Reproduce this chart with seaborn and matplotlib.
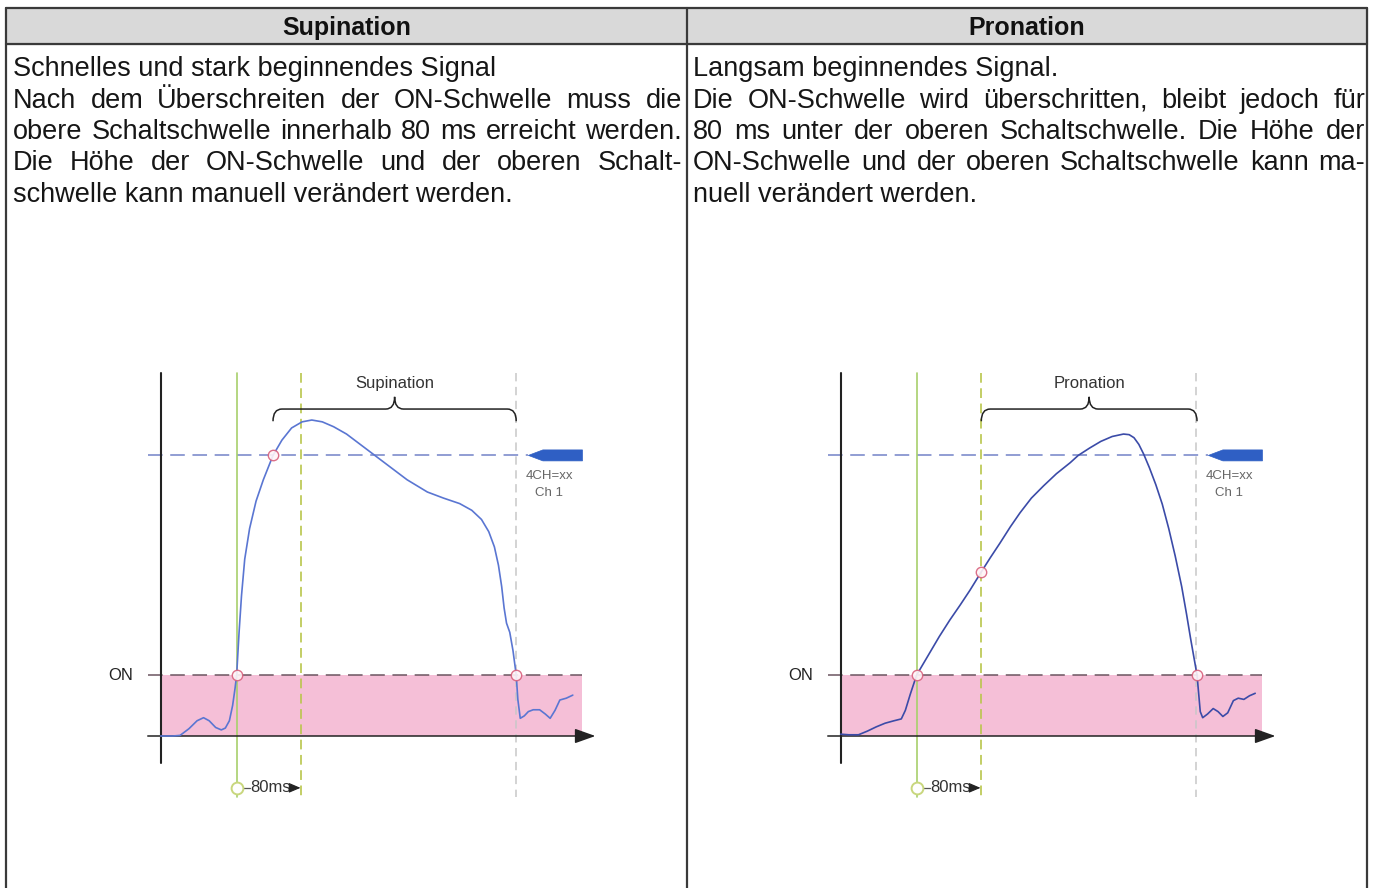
import numpy as np
import pandas as pd
import seaborn as sns
import matplotlib
matplotlib.use("Agg")
import matplotlib.pyplot as plt
from matplotlib.path import Path
from matplotlib.patches import PathPatch, Polygon

# ---- data (time in ms, signal in units of the ON threshold) ----
col_titles = ["Supination", "Pronation"]

sup_lines = [
    ("Schnelles und stark beginnendes Signal", False),
    ("Nach dem Überschreiten der ON-Schwelle muss die", True),
    ("obere Schaltschwelle innerhalb 80 ms erreicht werden.", True),
    ("Die Höhe der ON-Schwelle und der oberen Schalt-", True),
    ("schwelle kann manuell verändert werden.", False),
]
pro_lines = [
    ("Langsam beginnendes Signal.", False),
    ("Die ON-Schwelle wird überschritten, bleibt jedoch für", True),
    ("80 ms unter der oberen Schaltschwelle. Die Höhe der", True),
    ("ON-Schwelle und der oberen Schaltschwelle kann ma-", True),
    ("nuell verändert werden.", False),
]

sup_t = [0, 15, 24, 35, 45, 53, 60, 68, 75, 80, 85, 89, 92, 94, 97, 100, 104, 110,
         118, 127, 139, 150, 162, 175, 187, 200, 214, 230, 255, 280, 305, 330, 350,
         370, 385, 397, 406, 413, 418, 422, 425, 428, 432, 436, 440, 442, 445, 450,
         455, 461, 469, 476, 482, 488, 494, 502, 510]
sup_a = [0, 0, 0.01, 0.12, 0.25, 0.30, 0.25, 0.14, 0.10, 0.13, 0.25, 0.5, 0.78, 1.0,
         1.7, 2.3, 2.9, 3.4, 3.85, 4.2, 4.6, 4.85, 5.05, 5.15, 5.18, 5.15, 5.07, 4.95,
         4.7, 4.45, 4.2, 4.0, 3.9, 3.81, 3.7, 3.55, 3.35, 3.1, 2.8, 2.45, 2.1, 1.85,
         1.7, 1.4, 1.0, 0.6, 0.29, 0.33, 0.40, 0.43, 0.43, 0.36, 0.29, 0.42, 0.59, 0.62, 0.67]

pro_t = [0, 10, 22, 33, 44, 55, 66, 75, 80, 86, 94, 102, 110, 122, 135, 148, 160, 174,
         185, 197, 210, 222, 236, 251, 267, 284, 294, 308, 322, 336, 350, 357, 363, 369,
         375, 382, 390, 398, 406, 414, 422, 428, 433, 437, 441, 443, 445, 448, 454, 461,
         467, 473, 479, 486, 492, 499, 506, 513]
pro_a = [0.03, 0.02, 0.02, 0.08, 0.15, 0.21, 0.25, 0.28, 0.42, 0.68, 1.0, 1.18, 1.36,
         1.63, 1.9, 2.15, 2.39, 2.69, 2.92, 3.16, 3.43, 3.66, 3.9, 4.1, 4.3, 4.48, 4.6,
         4.72, 4.83, 4.91, 4.95, 4.94, 4.89, 4.78, 4.62, 4.4, 4.12, 3.8, 3.4, 2.95, 2.45,
         2.0, 1.6, 1.3, 1.0, 0.7, 0.4, 0.3, 0.36, 0.45, 0.4, 0.32, 0.38, 0.58, 0.62, 0.6,
         0.66, 0.7]

on_level = 1.0
upper_level = 4.6
t_on = 94          # ON threshold crossed
t_window = 80      # 80 ms window
t_end = 440        # signal back under ON
t_max = 522        # end of ON band / marker

sup_marks_t = [94, 139, 440]
sup_marks_a = [1.0, 4.6, 1.0]
pro_marks_t = [94, 174, 441]
pro_marks_a = [1.0, 2.69, 1.0]

sup_brace = (139, 440)
pro_brace = (174, 441)

# ---- style ----
sns.set_theme(style="white")
plt.rcParams['font.family'] = ['Liberation Sans', 'DejaVu Sans']
plt.rcParams['lines.scale_dashes'] = False

W, H = 1373, 888
fig = plt.figure(figsize=(W / 100, H / 100), dpi=100)
fig.patch.set_facecolor("white")

# table background axes in pixel units
bg = fig.add_axes([0, 0, 1, 1])
bg.set_xlim(0, W)
bg.set_ylim(H, 0)
bg.axis("off")

x_left, x_mid, x_right, y_top, y_head = 6, 686.5, 1367, 8.5, 44
border = "#3a3a3a"
bg.fill_between([x_left, x_right], y_top, y_head, color="#d9d9d9", zorder=0)
lw_b = 1.6
bg.plot([x_left, x_right], [y_top, y_top], color=border, lw=lw_b)
bg.plot([x_left, x_right], [y_head, y_head], color=border, lw=lw_b)
for xv in (x_left, x_mid, x_right):
    bg.plot([xv, xv], [y_top, H + 2], color=border, lw=lw_b)

for title, cx in zip(col_titles, [(x_left + x_mid) / 2, (x_mid + x_right) / 2]):
    bg.text(cx, 35, title, ha="center", va="baseline", fontsize=18,
            fontweight="bold", color="#111111")

renderer = fig.canvas.get_renderer()
BODY_SIZE = 19.5


def put_line(text, x0, x1, y, justify):
    kw = dict(ha="left", va="baseline", fontsize=BODY_SIZE, color="#161616")
    if not justify:
        bg.text(x0, y, text, **kw)
        return
    words = text.split(" ")
    arts = [bg.text(0, y, w, **kw) for w in words]
    widths = [a.get_window_extent(renderer).width for a in arts]
    gap = (x1 - x0 - sum(widths)) / (len(words) - 1)
    x = x0
    for a, w in zip(arts, widths):
        a.set_x(x)
        x += w + gap


baselines = [76, 107.5, 139, 170.5, 202]
for (txt, just), yb in zip(sup_lines, baselines):
    put_line(txt, 13, 682, yb, just)
for (txt, just), yb in zip(pro_lines, baselines):
    put_line(txt, 693, 1365, yb, just)

# ---- diagrams ----
PX_MS, PX_UNIT = 0.808, 61.0
ORIGIN_Y = 736


def brace(ax, x0, x1, y_end, y_flat, y_peak, r=11):
    mid = (x0 + x1) / 2
    verts = [(x0, y_end), (x0, y_flat), (x0 + r, y_flat),
             (mid - r, y_flat), (mid, y_flat), (mid, y_peak),
             (mid, y_flat), (mid + r, y_flat),
             (x1 - r, y_flat), (x1, y_flat), (x1, y_end)]
    codes = [Path.MOVETO, Path.CURVE3, Path.CURVE3,
             Path.LINETO, Path.CURVE3, Path.CURVE3,
             Path.CURVE3, Path.CURVE3,
             Path.LINETO, Path.CURVE3, Path.CURVE3]
    ax.add_patch(PathPatch(Path(verts, codes), fill=False, lw=1.1,
                           ec="#222222", zorder=5))
    return mid


def diagram(px_origin, t, a, marks_t, marks_a, brace_x, label, curve_color):
    left_px, right_px, top_px, bot_px = px_origin - 60.7, px_origin + 449.3, 355, 815
    ax = fig.add_axes([left_px / W, 1 - bot_px / H, (right_px - left_px) / W,
                       (bot_px - top_px) / H])
    ax.set_xlim((left_px - px_origin) / PX_MS, (right_px - px_origin) / PX_MS)
    ax.set_ylim((ORIGIN_Y - bot_px) / PX_UNIT, (ORIGIN_Y - top_px) / PX_UNIT)
    ax.axis("off")

    # ON band
    ax.fill_between([0, t_max], 0, on_level, color="#f5bfd7", lw=0, zorder=1)
    ax.plot([-16, t_max], [on_level, on_level], color="#6b5560", lw=1.1,
            dashes=(10.5, 5.5), zorder=2)
    ax.plot([-16, 455], [upper_level, upper_level], color="#7383c8", lw=1.1,
            dashes=(10.5, 5.5), zorder=2)
    ax.add_patch(Polygon([(455, upper_level), (473, upper_level + 0.09),
                          (t_max, upper_level + 0.09), (t_max, upper_level - 0.09),
                          (473, upper_level - 0.09)], closed=True,
                         fc="#2f5fc4", ec="#2f5fc4", lw=0.5, zorder=3))
    ax.text(481, 4.26, "4CH=xx", ha="center", va="center", fontsize=9.5, color="#666666")
    ax.text(481, 3.99, "Ch 1", ha="center", va="center", fontsize=9.5, color="#666666")

    # time markers
    ax.plot([t_on, t_on], [5.95, -1.0], color="#a8d06c", lw=1.2, zorder=2)
    ax.plot([t_on + t_window, t_on + t_window], [5.95, -1.0], color="#b9c64c",
            lw=1.2, dashes=(7, 4), zorder=2)
    ax.plot([t_end, t_end], [5.95, -1.0], color="#c8c8c8", lw=1.1,
            dashes=(6, 4), zorder=2)

    # axes
    ax.plot([0, 0], [5.95, -0.45], color="#222222", lw=1.5, zorder=4)
    ax.annotate("", xy=(538, 0), xytext=(-16, 0),
                arrowprops=dict(arrowstyle="-|>,head_length=0.9,head_width=0.32",
                                color="#222222", lw=1.1, shrinkA=0, shrinkB=0,
                                mutation_scale=14), zorder=4)
    ax.text(-49, on_level, "ON", ha="center", va="center", fontsize=12, color="#222222")

    # signal
    df = pd.DataFrame({"t": t, "a": a})
    sns.lineplot(data=df, x="t", y="a", ax=ax, color=curve_color, lw=1.2,
                 sort=False, estimator=None, zorder=6)
    ax.plot(marks_t, marks_a, "o", ms=7.5, mfc="#fff4f7", mec="#d8607c",
            mew=1.0, zorder=7, alpha=0.9)

    mid = brace(ax, brace_x[0], brace_x[1], 5.16, 5.36, 5.56)
    ax.text(mid, 5.78, label, ha="center", va="center", fontsize=12, color="#333333")

    # 80 ms annotation
    ax.plot([t_on, 110], [-0.85, -0.85], color="#555555", lw=0.9, zorder=4)
    ax.plot([t_on], [-0.85], "o", ms=8.5, mfc="white", mec="#c9d77e", mew=1.4, zorder=5)
    ax.text(110.5, -0.85, "80ms", ha="left", va="center", fontsize=12, color="#333333")
    ax.annotate("", xy=(t_on + t_window - 1, -0.85), xytext=(163, -0.85),
                arrowprops=dict(arrowstyle="-|>,head_length=0.7,head_width=0.3",
                                color="#222222", lw=0.8, shrinkA=0, shrinkB=0,
                                mutation_scale=10), zorder=5)
    ax.set_xlabel("")
    ax.set_ylabel("")


diagram(160.7, sup_t, sup_a, sup_marks_t, sup_marks_a, sup_brace, "Supination", "#5a76d2")
diagram(840.7, pro_t, pro_a, pro_marks_t, pro_marks_a, pro_brace, "Pronation", "#3b4ba8")

fig.savefig("out.png", dpi=100, facecolor="white")
